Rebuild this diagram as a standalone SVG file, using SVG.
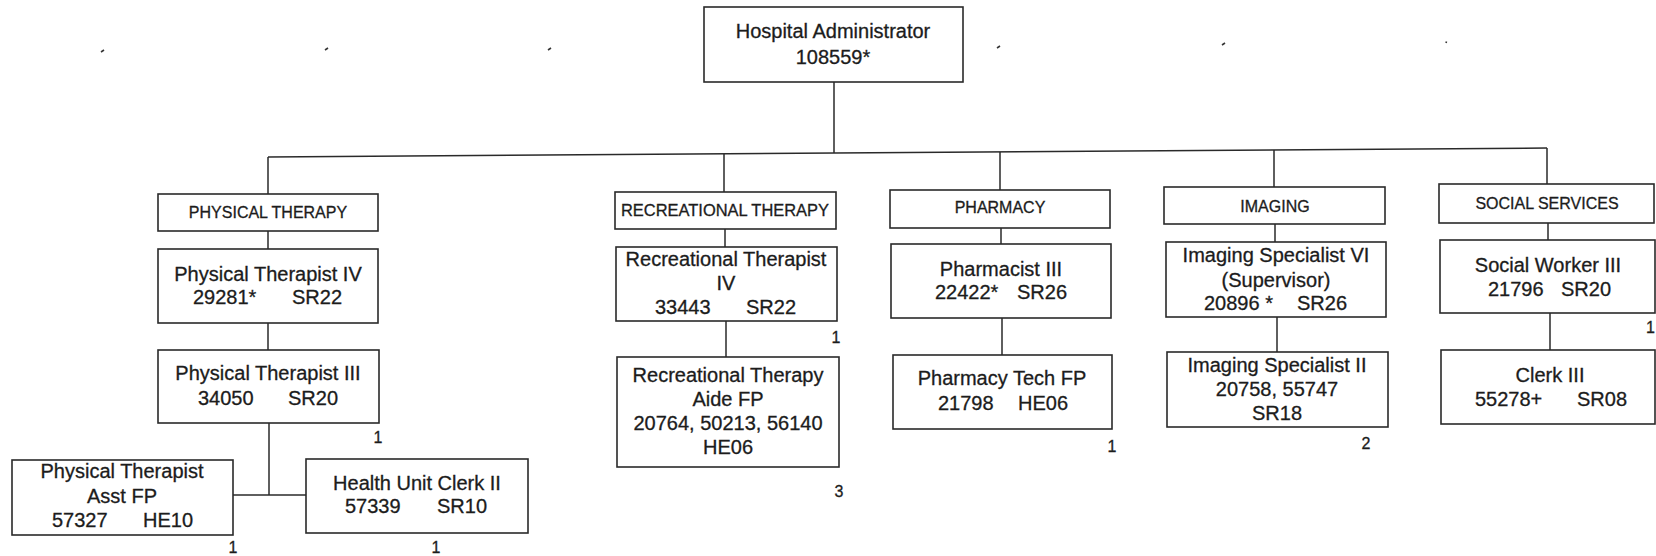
<svg xmlns="http://www.w3.org/2000/svg" width="1656" height="556" viewBox="0 0 1656 556">
<style>
.bg{fill:#ffffff}
.box{fill:#ffffff;stroke:#2a2a2a;stroke-width:1.6}
.conn{stroke:#2a2a2a;stroke-width:1.5;fill:none}
.mark{stroke:#333;stroke-width:1.6;fill:none}
text{font-family:"Liberation Sans",Arial,sans-serif;fill:#1c1c1c;stroke:#1c1c1c;stroke-width:0.3}
.t{font-size:20px;text-anchor:middle}
.ts{font-size:20px}
.d{font-size:16px;text-anchor:middle}
.c{font-size:16px;text-anchor:middle}
</style>
<rect class="bg" x="0" y="0" width="1656" height="556"/>
<g id="marks">
<path class="mark" d="M101 52 l3 -2"/>
<path class="mark" d="M325 50 l3 -2"/>
<path class="mark" d="M548 50 l3 -2"/>
<path class="mark" d="M775 49 l1 -3"/>
<path class="mark" d="M997 48 l3 -2"/>
<path class="mark" d="M1222 45 l3 -2"/>
<path class="mark" d="M1446 43 l0.5 -1.5"/>
</g>
<g id="connectors">
<path class="conn" d="M834 82 V153"/>
<path class="conn" d="M268 157 L1547 148"/>
<path class="conn" d="M268 157 V194"/>
<path class="conn" d="M724 154 V192"/>
<path class="conn" d="M1000 152 V190"/>
<path class="conn" d="M1274 150 V187"/>
<path class="conn" d="M1547 148 V184"/>
<path class="conn" d="M268 231 V249"/>
<path class="conn" d="M268 323 V350"/>
<path class="conn" d="M269 423 V495"/>
<path class="conn" d="M233 495 H306"/>
<path class="conn" d="M725 229 V247"/>
<path class="conn" d="M726 321 V357"/>
<path class="conn" d="M1001 228 V244"/>
<path class="conn" d="M1002 318 V355"/>
<path class="conn" d="M1275 224 V242"/>
<path class="conn" d="M1277 317 V352"/>
<path class="conn" d="M1548 223 V240"/>
<path class="conn" d="M1550 313 V350"/>
</g>
<g id="admin">
<rect class="box" x="704" y="7" width="259" height="75"/>
<text class="t" x="833" y="38">Hospital Administrator</text>
<text class="t" x="833" y="64">108559*</text>
</g>
<g id="dept-pt">
<rect class="box" x="158" y="194" width="220" height="37"/>
<text class="d" x="268" y="218">PHYSICAL THERAPY</text>
</g>
<g id="pt4">
<rect class="box" x="158" y="249" width="220" height="74"/>
<text class="t" x="268" y="281">Physical Therapist IV</text>
<text class="ts" y="304"><tspan x="193">29281*</tspan><tspan x="292">SR22</tspan></text>
</g>
<g id="pt3">
<rect class="box" x="158" y="350" width="221" height="73"/>
<text class="t" x="268" y="380">Physical Therapist III</text>
<text class="ts" y="405"><tspan x="198">34050</tspan><tspan x="288">SR20</tspan></text>
<text class="c" x="378" y="443">1</text>
</g>
<g id="pt-asst">
<rect class="box" x="12" y="460" width="221" height="75"/>
<text class="t" x="122" y="478">Physical Therapist</text>
<text class="t" x="122" y="503">Asst FP</text>
<text class="ts" y="527"><tspan x="52">57327</tspan><tspan x="143">HE10</tspan></text>
<text class="c" x="233" y="553">1</text>
</g>
<g id="huc">
<rect class="box" x="306" y="459" width="222" height="74"/>
<text class="t" x="417" y="490">Health Unit Clerk II</text>
<text class="ts" y="513"><tspan x="345">57339</tspan><tspan x="437">SR10</tspan></text>
<text class="c" x="436" y="553">1</text>
</g>
<g id="dept-rt">
<rect class="box" x="615" y="192" width="221" height="37"/>
<text class="d" x="725" y="216" textLength="208" lengthAdjust="spacingAndGlyphs">RECREATIONAL THERAPY</text>
</g>
<g id="rt4">
<rect class="box" x="616" y="247" width="221" height="74"/>
<text class="t" x="726" y="266">Recreational Therapist</text>
<text class="t" x="726" y="290">IV</text>
<text class="ts" y="314"><tspan x="655">33443</tspan><tspan x="746">SR22</tspan></text>
<text class="c" x="836" y="343">1</text>
</g>
<g id="rt-aide">
<rect class="box" x="617" y="357" width="222" height="110"/>
<text class="t" x="728" y="382">Recreational Therapy</text>
<text class="t" x="728" y="406">Aide FP</text>
<text class="t" x="728" y="430">20764, 50213, 56140</text>
<text class="t" x="728" y="454">HE06</text>
<text class="c" x="839" y="497">3</text>
</g>
<g id="dept-ph">
<rect class="box" x="890" y="190" width="220" height="38"/>
<text class="d" x="1000" y="213">PHARMACY</text>
</g>
<g id="ph3">
<rect class="box" x="891" y="244" width="220" height="74"/>
<text class="t" x="1001" y="276">Pharmacist III</text>
<text class="ts" y="299"><tspan x="935">22422*</tspan><tspan x="1017">SR26</tspan></text>
</g>
<g id="ph-tech">
<rect class="box" x="893" y="355" width="219" height="74"/>
<text class="t" x="1002" y="385">Pharmacy Tech FP</text>
<text class="ts" y="410"><tspan x="938">21798</tspan><tspan x="1018">HE06</tspan></text>
<text class="c" x="1112" y="452">1</text>
</g>
<g id="dept-im">
<rect class="box" x="1164" y="187" width="221" height="37"/>
<text class="d" x="1275" y="212">IMAGING</text>
</g>
<g id="im6">
<rect class="box" x="1166" y="242" width="220" height="75"/>
<text class="t" x="1276" y="262">Imaging Specialist VI</text>
<text class="t" x="1276" y="287">(Supervisor)</text>
<text class="ts" y="310"><tspan x="1204">20896 *</tspan><tspan x="1297">SR26</tspan></text>
</g>
<g id="im2">
<rect class="box" x="1167" y="352" width="221" height="75"/>
<text class="t" x="1277" y="372">Imaging Specialist II</text>
<text class="t" x="1277" y="396">20758, 55747</text>
<text class="t" x="1277" y="420">SR18</text>
<text class="c" x="1366" y="449">2</text>
</g>
<g id="dept-ss">
<rect class="box" x="1439" y="184" width="215" height="39"/>
<text class="d" x="1547" y="209">SOCIAL SERVICES</text>
</g>
<g id="sw3">
<rect class="box" x="1440" y="240" width="215" height="73"/>
<text class="t" x="1548" y="272">Social Worker III</text>
<text class="ts" y="296"><tspan x="1488">21796</tspan><tspan x="1561">SR20</tspan></text>
<text class="c" x="1655" y="333" style="text-anchor:end">1</text>
</g>
<g id="clerk3">
<rect class="box" x="1441" y="350" width="214" height="74"/>
<text class="t" x="1550" y="382">Clerk III</text>
<text class="ts" y="406"><tspan x="1475">55278+</tspan><tspan x="1577">SR08</tspan></text>
</g>
</svg>
